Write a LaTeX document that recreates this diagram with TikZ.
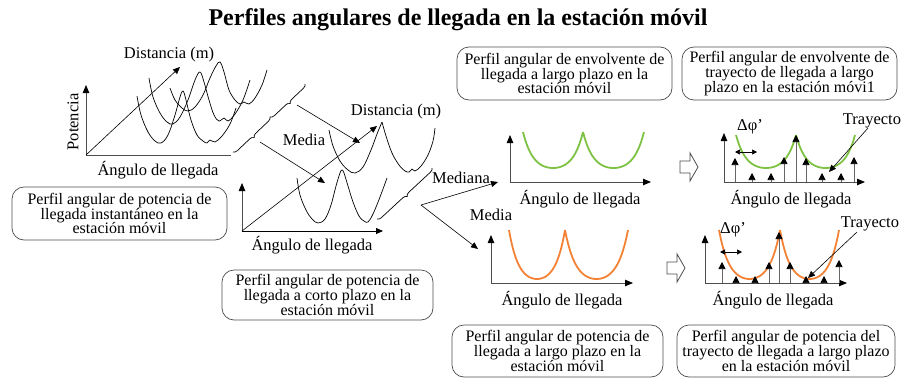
\documentclass[tikz,border=0pt]{standalone}
\usepackage{fontspec}
\setmainfont{Liberation Serif}
\usetikzlibrary{arrows.meta,decorations.pathreplacing}
\definecolor{envgreen}{RGB}{125,194,66}
\definecolor{envorange}{RGB}{243,130,53}
\begin{document}
\begin{tikzpicture}[x=1pt,y=-1pt,
  lbl/.style={font=\fontsize{16.5}{18}\selectfont, inner sep=0pt},
  box/.style={draw=black!70, line width=0.7pt, rounded corners=12pt, align=center, inner sep=0pt, font=\fontsize{16}{14.8}\selectfont},
  tri/.style={-{Triangle[length=7pt,width=6pt]}, line width=0.6pt},
  ax/.style={line width=0.8pt, draw=black!70, -{Triangle[length=8pt,width=6.5pt,color=black]}},
  axn/.style={line width=0.8pt, draw=black!70},
  imp/.style={line width=0.7pt, draw=black!60, -{Triangle[length=7pt,width=7pt,color=black]}},
  wave/.style={line width=0.7pt, black},
  env/.style={line width=1.8pt},
  brc/.style={decorate, decoration={brace, amplitude=4pt, mirror}, line width=0.7pt},
  hollow/.style={draw=black!70, line width=0.8pt, fill=white},
  dbl/.style={line width=0.7pt, {Triangle[length=5pt,width=5pt]}-{Triangle[length=5pt,width=5pt]}}
]
\useasboundingbox (0,0) rectangle (905,378);

% title
\node[font=\fontsize{24}{28}\selectfont\bfseries, anchor=base, inner sep=0pt] (title) at (458,25) {Perfiles angulares de llegada en la estación móvil};

% ---------- graph 1 : instantaneous ----------
\coordinate (o1) at (86,155);
\coordinate (y1) at (86,85);
\coordinate (x1) at (231,155);
\coordinate (d1) at (180,67);
\draw[ax] (o1) -- (y1);
\draw[axn] (o1) -- (x1);
\draw[tri] (o1) -- (d1);
\node[lbl, rotate=90] (pot) at (73,122) {Potencia};
\node[lbl] (ang1) at (158,170) {Ángulo de llegada};
\node[lbl] (dist1) at (169,55) {Distancia (m)};
\draw[wave] plot[smooth, tension=0.6] coordinates {(137,96) (141,115) (148,132) (155,141) (161,143) (168,135) (175,115) (180,97) (183,91) (186,100) (191,120) (197,135) (203,141) (207,143) (210,140) (215,142) (222,136) (230,124) (236,108)};
\draw[wave] plot[smooth, tension=0.6] coordinates {(149,78) (153,97) (160,113) (167,122) (173,124) (180,117) (188,100) (195,80) (200,72) (204,82) (209,100) (214,115) (219,121) (224,118) (228,121) (235,114) (243,100) (250,80)};
\draw[wave] plot[smooth, tension=0.6] coordinates {(170,88) (175,100) (182,108) (188,111) (195,107) (203,95) (210,78) (216,66) (220,62) (224,72) (229,90) (235,100) (240,104) (244,102) (249,104) (255,98) (262,85) (267,70)};
\node[box, minimum width=215pt, minimum height=53pt] (box1) at (119.5,213.5) {Perfil angular de potencia de\\llegada instantáneo en la\\estación móvil};

% braces 1
\coordinate (b1a) at (233,152);
\coordinate (b1b) at (270,117);
\coordinate (b1c) at (305,84);
\draw[brc] (b1a) -- (b1b);
\draw[brc] (b1b) -- (b1c);
\coordinate (m1s) at (260,142);
\coordinate (m1e) at (325,183);
\coordinate (m2s) at (297,105);
\coordinate (m2e) at (360,143);
\draw[tri] (m1s) -- (m1e);
\draw[tri] (m2s) -- (m2e);
\node[lbl] (media1) at (304,140) {Media};

% ---------- graph 2 : short term ----------
\coordinate (o2) at (242,231);
\coordinate (y2) at (242,183);
\coordinate (x2) at (383,231);
\coordinate (d2) at (377,126);
\draw[ax] (o2) -- (y2);
\draw[tri, line width=0.8pt] (o2) -- (x2);
\draw[tri] (o2) -- (d2);
\node[lbl] (ang2) at (312,245) {Ángulo de llegada};
\node[lbl] (dist2) at (396,112) {Distancia (m)};
\draw[wave] plot[smooth, tension=0.6] coordinates {(329,130) (333,146) (340,161) (348,170) (355,173) (363,167) (371,150) (377,134) (382,122)};
\draw[wave] plot[smooth, tension=0.6] coordinates {(382,122) (386,136) (392,153) (399,165) (405,171) (409,172) (412,169) (415,171) (421,166) (428,155) (433,141) (435,128)};
\draw[wave] plot[smooth, tension=0.6] coordinates {(297,178) (300,195) (306,210) (312,219) (318,223) (325,219) (331,205) (336,186) (340,173) (342,170) (344,173) (348,186) (353,202) (359,216) (364,221) (368,222) (373,214) (380,197) (387,178)};
\node[box, minimum width=211pt, minimum height=50pt] (box2) at (327.5,295) {Perfil angular de potencia de\\llegada a corto plazo en la\\estación móvil};

% brace 2
\coordinate (b2a) at (377,219);
\coordinate (b2b) at (432,168);
\draw[brc] (b2a) -- (b2b);
\coordinate (m3s) at (421,205);
\coordinate (m3e) at (498,182);
\coordinate (m4e) at (478,249);
\draw[tri] (m3s) -- (m3e);
\draw[tri] (m3s) -- (m4e);
\node[lbl] (mediana) at (461,178) {Mediana};
\node[lbl] (media2) at (491,215) {Media};

% ---------- graph 3 : long-term envelope ----------
\coordinate (o3) at (510,182);
\coordinate (y3) at (510,135);
\coordinate (x3) at (651,182);
\draw[ax] (o3) -- (y3);
\draw[ax] (o3) -- (x3);
\draw[env, envgreen] plot[domain=-1:1, samples=41] ({553+30*\x},{168-36*(cosh(3*\x)-1)/9.0677});
\draw[env, envgreen] plot[domain=-1:1, samples=41] ({613.5+30.5*\x},{168-36*(cosh(3*\x)-1)/9.0677});
\node[lbl] (ang3) at (580,199) {Ángulo de llegada};
\node[box, minimum width=215pt, minimum height=53pt] (box3) at (564.5,73.5) {Perfil angular de envolvente de\\llegada a largo plazo en la\\estación móvil};

% hollow arrow 1
\draw[hollow] (680,161) -- (690,161) -- (690,153) -- (698,167) -- (690,181) -- (690,173) -- (680,173) -- cycle;

% ---------- graph 4 : long-term path envelope ----------
\coordinate (o4) at (724,182);
\coordinate (y4) at (724,133);
\coordinate (x4) at (865,182);
\draw[ax] (o4) -- (y4);
\draw[ax] (o4) -- (x4);
\draw[env, envgreen] plot[domain=-1:1, samples=41] ({766+30*\x},{168-33*(cosh(3*\x)-1)/9.0677});
\draw[env, envgreen] plot[domain=-1:1, samples=41] ({825.5+29.5*\x},{168-33*(cosh(3*\x)-1)/9.0677});
\foreach \px/\py in {735/158, 752/173, 771/173, 784/157, 796/135, 806/158, 822/173, 841/173, 854/157}
  \draw[imp] (\px,182) -- (\px,\py);
\node[lbl] (dphi1) at (750,127) {Δφ’};
\coordinate (r1a) at (735,152);
\coordinate (r1b) at (757,152);
\draw[dbl] (r1a) -- (r1b);
\node[lbl] (tray1) at (872,121) {Trayecto};
\coordinate (t1s) at (868,128);
\coordinate (t1e) at (829,172);
\draw[tri] (t1s) -- (t1e);
\node[lbl] (ang4) at (791,199) {Ángulo de llegada};
\node[box, minimum width=215pt, minimum height=53pt] (box4) at (789.5,73.5) {Perfil angular de envolvente de\\trayecto de llegada a largo\\plazo en la estación móvi1};

% ---------- graph 5 : long-term power ----------
\coordinate (o5) at (491,283);
\coordinate (y5) at (491,235);
\coordinate (x5) at (633,283);
\draw[ax] (o5) -- (y5);
\draw[ax] (o5) -- (x5);
\draw[env, envorange] plot[domain=-1:1, samples=41] ({537+28*\x},{279-49*(cosh(3*\x)-1)/9.0677});
\draw[env, envorange] plot[domain=-1:1, samples=41] ({596.5+31.5*\x},{279-49*(cosh(3*\x)-1)/9.0677});
\node[lbl] (ang5) at (562,300) {Ángulo de llegada};
\node[box, minimum width=211pt, minimum height=52pt] (box5) at (557.5,351) {Perfil angular de potencia de\\llegada a largo plazo en la\\estación móvil};

% hollow arrow 2
\draw[hollow] (667,262) -- (677,262) -- (677,254) -- (685,268) -- (677,282) -- (677,274) -- (667,274) -- cycle;

% ---------- graph 6 : long-term path power ----------
\coordinate (o6) at (705,283);
\coordinate (y6) at (705,235);
\coordinate (x6) at (847,283);
\draw[ax] (o6) -- (y6);
\draw[ax] (o6) -- (x6);
\draw[env, envorange] plot[domain=-1:1, samples=41] ({749.5+30.5*\x},{279-49*(cosh(3*\x)-1)/9.0677});
\draw[env, envorange] plot[domain=-1:1, samples=41] ({809.5+29.5*\x},{279-49*(cosh(3*\x)-1)/9.0677});
\foreach \px/\py in {722/262, 736/276, 755/276, 769/262, 779/232, 790/262, 806/276, 824/276, 839/260}
  \draw[imp] (\px,283) -- (\px,\py);
\node[lbl] (dphi2) at (733,230) {Δφ’};
\coordinate (r2a) at (720,252);
\coordinate (r2b) at (742,252);
\draw[dbl] (r2a) -- (r2b);
\node[lbl] (tray2) at (870,224) {Trayecto};
\coordinate (t2s) at (857,232);
\coordinate (t2e) at (808,278);
\draw[tri] (t2s) -- (t2e);
\node[lbl] (ang6) at (773,300) {Ángulo de llegada};
\node[box, minimum width=218pt, minimum height=52pt] (box6) at (786,351) {Perfil angular de potencia del\\trayecto de llegada a largo plazo\\en la estación móvil};
\end{tikzpicture}
\end{document}
